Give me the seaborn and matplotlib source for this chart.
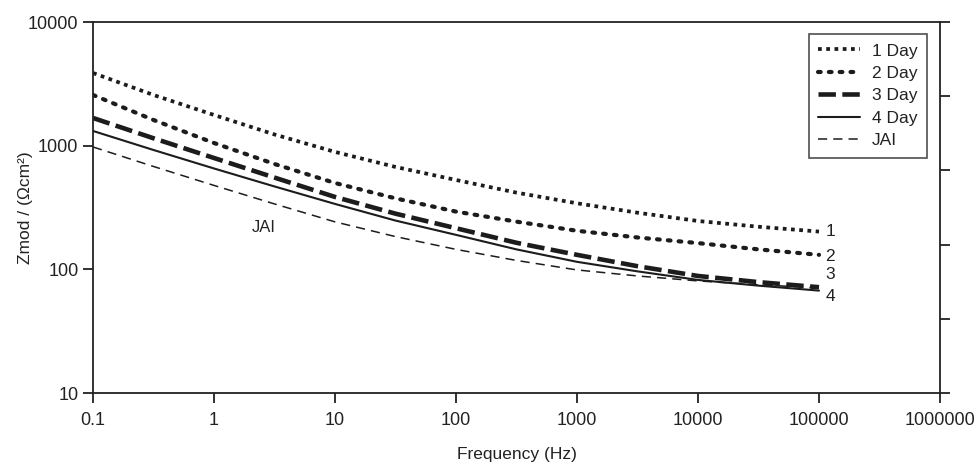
import numpy as np
import pandas as pd
import seaborn as sns
import matplotlib.pyplot as plt

# frequency points (Hz) and |Z| values (Ohm cm^2)
freq = [0.1, 0.316, 1, 3.16, 10, 31.6, 100, 316, 1000, 3162, 10000, 31623, 100000]
day1 = [3870, 2570, 1771, 1232, 890, 673, 528, 417, 342, 287, 246, 221, 202]
day2 = [2570, 1614, 1051, 711, 499, 375, 293, 243, 205, 181, 163, 145, 131]
day3 = [1675, 1148, 795, 552, 385, 282, 215, 164, 131, 106, 88.4, 78.8, 71.7]
day4 = [1315, 923, 654, 468, 338, 248, 190, 145, 115, 96.3, 82.1, 73.8, 67.3]
jai = [976, 679, 477, 338, 242, 184, 145, 118, 98.9, 88.4, 80.6, 75.1, 70.7]

series_names = ["1 Day", "2 Day", "3 Day", "4 Day", "JAI"]
end_labels = ["1", "2", "3", "4"]

sns.set_style("ticks")
plt.rcParams['font.family'] = ['Liberation Sans', 'DejaVu Sans']

df = pd.DataFrame({"freq": freq, "1 Day": day1, "2 Day": day2,
                   "3 Day": day3, "4 Day": day4, "JAI": jai})

line_col = "#1c1c1c"
txt_col = "#222222"
styles = {
    "1 Day": dict(lw=2.7, dashes=(1.0, 1.2), cap="butt"),
    "2 Day": dict(lw=3.0, dashes=(0.65, 1.95), cap="round"),
    "3 Day": dict(lw=3.3, dashes=(3.8, 1.4), cap="butt"),
    "4 Day": dict(lw=1.5, dashes=None, cap="butt"),
    "JAI": dict(lw=1.1, dashes=(6, 4), cap="butt"),
}

fig = plt.figure(figsize=(9.76, 4.71), dpi=100)
ax = fig.add_axes([93 / 976, 1 - 393 / 471, (940 - 93) / 976, (393 - 22) / 471])

for name in series_names:
    st = styles[name]
    sns.lineplot(data=df, x="freq", y=name, ax=ax, color=line_col,
                 lw=st["lw"], label=name)
    l = ax.lines[-1]
    if st["dashes"] is not None:
        l.set_dashes(st["dashes"])
        l.set_dash_capstyle(st["cap"])

ax.set_xscale("log")
ax.set_yscale("log")
ax.set_xlim(0.1, 1000000)
ax.set_ylim(10, 10000)

xt = [0.1, 1, 10, 100, 1000, 10000, 100000, 1000000]
ax.set_xticks(xt)
ax.set_xticklabels(["0.1", "1", "10", "100", "1000", "10000", "100000", "1000000"])
yt = [10, 100, 1000, 10000]
ax.set_yticks(yt)
ax.set_yticklabels(["10", "100", "1000", "10000"])
ax.minorticks_off()
ax.tick_params(axis="both", direction="out", length=7.5, width=1.3,
               labelsize=13, color=txt_col, labelcolor=txt_col)
ax.tick_params(axis="x", pad=6)
ax.tick_params(axis="y", pad=3)

for sp in ax.spines.values():
    sp.set_visible(True)
    sp.set_linewidth(1.3)
    sp.set_color(txt_col)

ax.set_xlabel("Frequency (Hz)", fontsize=12.5, color=txt_col)
ax.xaxis.set_label_coords(0.5, -0.145)
ax.set_ylabel("Zmod / (\u03a9cm\u00b2)", fontsize=12.5, color=txt_col)
ax.yaxis.set_label_coords(-0.071, 0.5)

# right-hand linear axis with unlabelled ticks
ax2 = ax.twinx()
ax2.set_ylim(0, 5)
ax2.set_yticks([0, 1, 2, 3, 4, 5])
ax2.set_yticklabels([])
ax2.tick_params(axis="y", direction="out", length=7.5, width=1.3, color=txt_col)
for sp in ax2.spines.values():
    sp.set_visible(False)

# labels at the ends of the curves
end_vals = [day1[-1], day2[-1], day3[-1], day4[-1]]
end_offsets = [0.0, -0.01, 0.1, -0.045]
for lab, v, off in zip(end_labels, end_vals, end_offsets):
    ax.text(113000, v * 10 ** off, lab, fontsize=12.5, color=txt_col,
            va="center", ha="left")
ax.text(2.6, 218, "JAI", fontsize=12, color=txt_col, ha="center", va="center")

leg = ax.legend(loc="upper right", bbox_to_anchor=(0.985, 0.968), fontsize=12.5,
                frameon=True, fancybox=False, edgecolor=txt_col,
                handlelength=2.4, handletextpad=0.7, labelspacing=0.42,
                borderpad=0.55, borderaxespad=0)
leg.get_frame().set_linewidth(1.2)
for t in leg.get_texts():
    t.set_color(txt_col)

fig.savefig("out.png", dpi=100)
